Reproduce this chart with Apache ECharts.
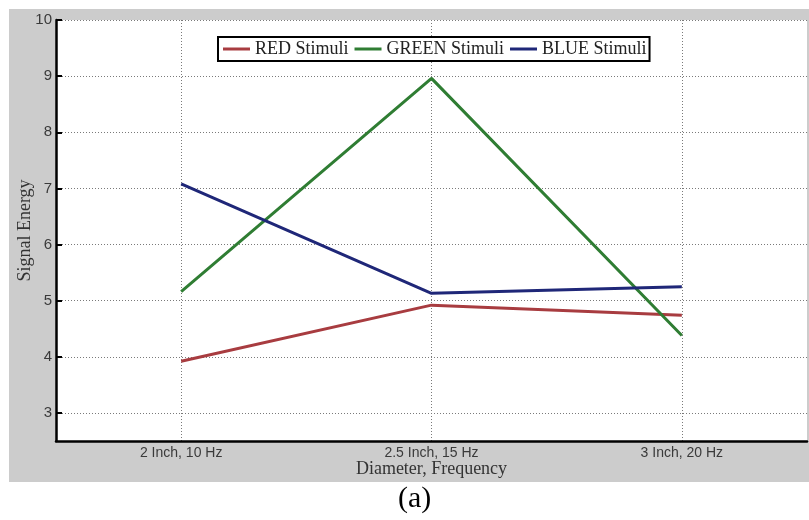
<!DOCTYPE html>
<html>
<head>
<meta charset="utf-8">
<script src="https://cdn.jsdelivr.net/npm/echarts@6/dist/echarts.min.js"></script>
<style>
html,body{margin:0;padding:0;background:#fff;}
#bg{position:absolute;left:9px;top:9px;width:800px;height:473px;background:#cccccc;}
#chart{position:absolute;left:0;top:0;width:809px;height:520px;}
</style>
</head>
<body>
<div id="bg"></div>
<div id="chart"></div>
<script>
const categories = ['2 Inch, 10 Hz', '2.5 Inch, 15 Hz', '3 Inch, 20 Hz'];
const redValues = [3.92, 4.92, 4.74];
const greenValues = [5.16, 8.96, 4.38];
const blueValues = [7.08, 5.13, 5.25];
const seriesNames = ['RED Stimuli', 'GREEN Stimuli', 'BLUE Stimuli'];
const seriesColors = ['#a83c40', '#2f7d33', '#1f2778'];
const yMin = 2.5, yMax = 10;

const chart = echarts.init(document.getElementById('chart'), null, {renderer: 'canvas'});
const serif = '"Liberation Serif", "Times New Roman", serif';
const sans = '"Liberation Sans", Arial, sans-serif';
const gridLine = {show: true, lineStyle: {color: '#7a7a7a', width: 1, type: [1, 2]}};

chart.setOption({
  backgroundColor: 'transparent',
  animation: false,
  grid: {left: 56, top: 20, right: 2, bottom: 79, show: true, backgroundColor: '#ffffff', borderWidth: 0},
  legend: {
    data: seriesNames,
    left: 218, top: 37,
    padding: [3, 3, 3, 5],
    itemGap: 6,
    itemWidth: 27, itemHeight: 3,
    icon: 'rect',
    borderColor: '#000', borderWidth: 2,
    backgroundColor: '#fff',
    textStyle: {fontFamily: serif, fontSize: 18, color: '#222'}
  },
  xAxis: {
    type: 'category',
    data: categories,
    boundaryGap: true,
    name: 'Diameter, Frequency',
    nameLocation: 'middle',
    nameGap: 19,
    nameMoveOverlap: false,
    nameTextStyle: {fontFamily: serif, fontSize: 18, color: '#333'},
    axisLine: {lineStyle: {color: '#000', width: 2.5}},
    axisTick: {alignWithLabel: true, inside: true, length: 6, lineStyle: {color: '#000', width: 2}},
    axisLabel: {fontFamily: sans, fontSize: 14, color: '#3a3a3a', margin: 5},
    splitLine: Object.assign({alignWithLabel: true}, gridLine)
  },
  yAxis: {
    type: 'value',
    min: yMin, max: yMax,
    splitNumber: 7,
    name: 'Signal Energy',
    nameLocation: 'middle',
    nameGap: 22,
    nameMoveOverlap: false,
    nameTextStyle: {fontFamily: serif, fontSize: 18, color: '#333'},
    axisLine: {show: true, lineStyle: {color: '#000', width: 2.5}},
    axisTick: {show: true, inside: true, length: 6, lineStyle: {color: '#000', width: 2}},
    axisLabel: {fontFamily: sans, fontSize: 15, color: '#3a3a3a', margin: 4, showMinLabel: false},
    splitLine: gridLine
  },
  series: [redValues, greenValues, blueValues].map((vals, i) => ({
    name: seriesNames[i],
    type: 'line',
    data: vals,
    showSymbol: false,
    symbol: 'none',
    color: seriesColors[i],
    lineStyle: {width: 3, color: seriesColors[i]}
  })),
  graphic: [{
    type: 'text', left: 398, top: 484,
    style: {text: '(a)', fontFamily: serif, fontSize: 30, fill: '#000'}
  }]
});
</script>
</body>
</html>
